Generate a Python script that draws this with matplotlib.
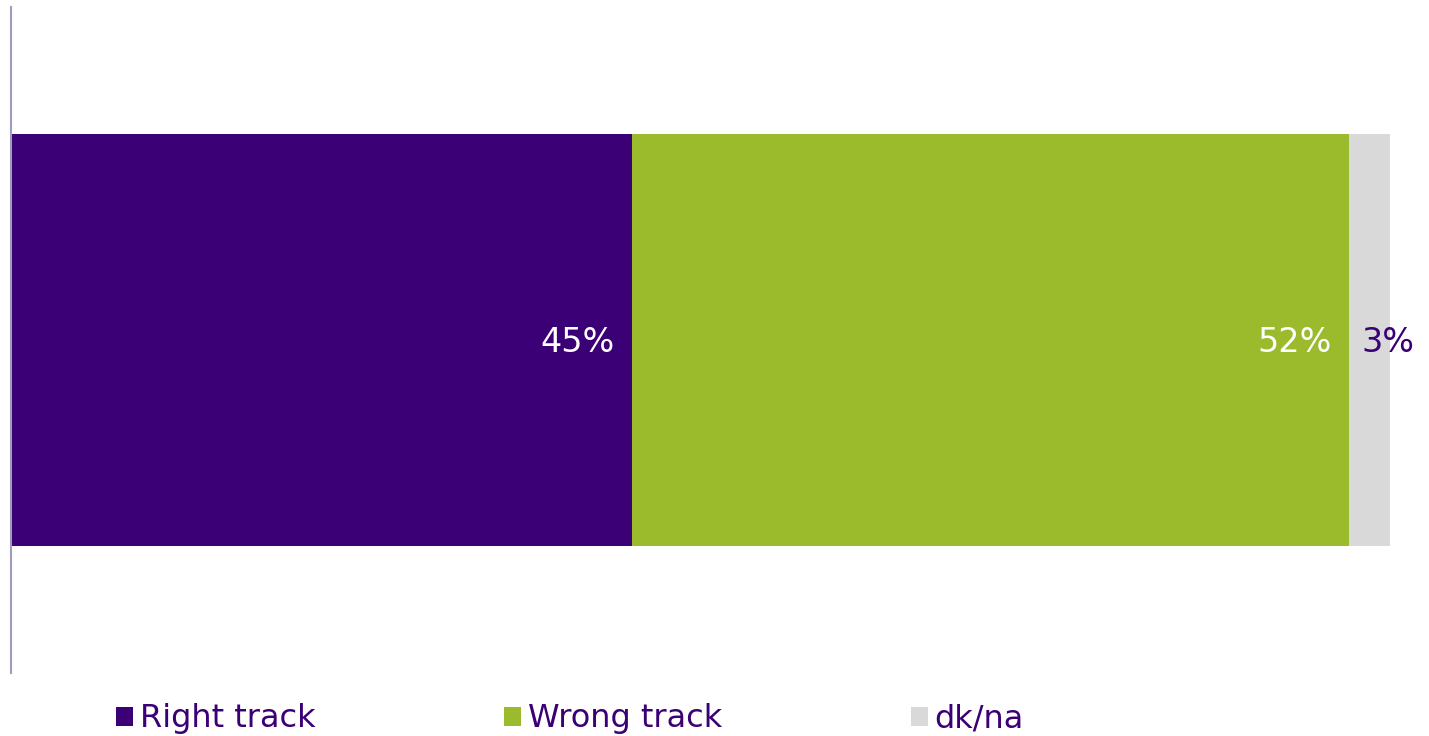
import matplotlib.pyplot as plt
from matplotlib.patches import Patch

# survey shares (percent)
categories = ["Right track", "Wrong track", "dk/na"]
values = [45, 52, 3]
colors = ["#3B0075", "#9BBB2D", "#D9D9D9"]
label_colors = ["white", "white", "#3B0075"]

PURPLE = "#3B0075"
LEGEND_SIZE = 23
LABEL_SIZE = 24

plt.rcParams["font.family"] = ["DejaVu Sans"]

fig = plt.figure(figsize=(14.29, 7.36), dpi=100)
ax = fig.add_axes([11 / 1429, 1 - 673 / 736, (1390 - 11) / 1429, 666 / 736])

left = 0
handles = []
for name, val, col, lcol in zip(categories, values, colors, label_colors):
    ax.barh(0, val, left=left, height=0.619, color=col, label=name)
    end = left + val
    if lcol == "white":
        ax.annotate(f"{val}%", xy=(end, 0), xytext=(-17, -2), textcoords="offset pixels",
                    ha="right", va="center", color=lcol, fontsize=LABEL_SIZE)
    else:
        ax.annotate(f"{val}%", xy=(left, 0), xytext=(13, -2), textcoords="offset pixels",
                    ha="left", va="center", color=lcol, fontsize=LABEL_SIZE)
    handles.append(Patch(facecolor=col, label=name))
    left = end

ax.set_xlim(0, 100)
ax.set_ylim(-0.5, 0.5)
ax.set_xticks([])
ax.set_yticks([])
for side in ["top", "right", "bottom"]:
    ax.spines[side].set_visible(False)
ax.spines["left"].set_color("#A09CC0")
ax.spines["left"].set_linewidth(1.5)

leg = fig.legend(handles=handles, loc="center left", bbox_to_anchor=(116 / 1429, 1 - 719 / 736),
                 ncol=3, frameon=False, fontsize=LEGEND_SIZE, handlelength=0.53, handleheight=0.53,
                 handletextpad=0.22, columnspacing=5.9, borderpad=0, borderaxespad=0)
for t in leg.get_texts():
    t.set_color(PURPLE)

fig.savefig("out.png", dpi=100)
